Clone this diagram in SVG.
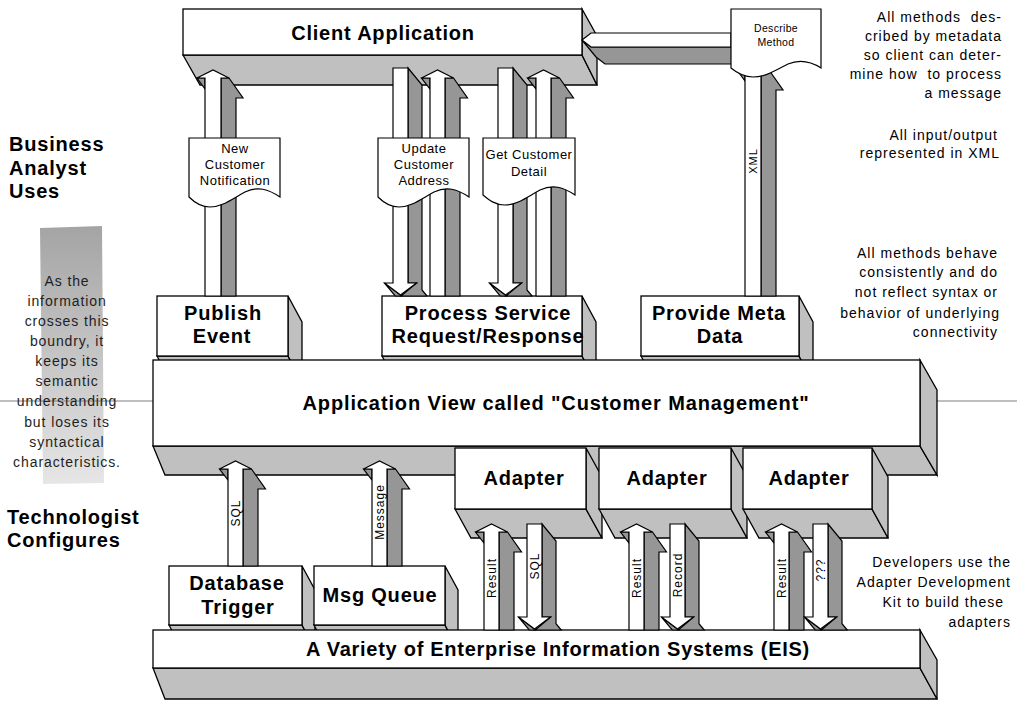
<svg xmlns="http://www.w3.org/2000/svg" width="1023" height="701" viewBox="0 0 1023 701">
<defs>
<linearGradient id="noteGrad" x1="0" y1="0" x2="0" y2="1">
<stop offset="0" stop-color="#a4a4a4"/>
<stop offset="1" stop-color="#e6e6e6"/>
</linearGradient>
</defs>
<style>
.front{fill:#ffffff;stroke:#000;stroke-width:1.3;stroke-linejoin:miter}
.face{fill:#c0c0c0;stroke:#000;stroke-width:1.3;stroke-linejoin:miter}
.aw{fill:#ffffff;stroke:#000;stroke-width:1.2;stroke-linejoin:miter}
.ag{fill:#969696;stroke:#000;stroke-width:1.2;stroke-linejoin:miter}
.doc{fill:#ffffff;stroke:#000;stroke-width:1.2}
.lbl{font-family:"Liberation Sans",Arial,sans-serif;font-weight:bold;font-size:20px;letter-spacing:0.8px;fill:#000;text-anchor:middle}
.side{font-family:"Liberation Sans",Arial,sans-serif;font-weight:bold;font-size:20px;letter-spacing:0.8px;fill:#000}
.note{font-family:"Liberation Sans",Arial,sans-serif;font-size:14px;letter-spacing:1px;fill:#000;text-anchor:end}
.gnote{font-family:"Liberation Sans",Arial,sans-serif;font-size:14px;letter-spacing:0.9px;fill:#1e1e1e;text-anchor:middle}
.dtx{font-family:"Liberation Sans",Arial,sans-serif;font-size:13px;letter-spacing:0.5px;fill:#000;text-anchor:middle}
.rot{font-family:"Liberation Sans",Arial,sans-serif;font-size:12px;letter-spacing:1px;fill:#000;text-anchor:middle}
.bline{stroke:#808080;stroke-width:1.2;fill:none}
</style>

<!-- boundary and side notes -->
<g id="boundary">
<polygon points="40,228 102,226 104,483 43,484" fill="url(#noteGrad)"/>
<line class="bline" x1="0" y1="401" x2="153" y2="401"/>
<line class="bline" x1="937" y1="401" x2="1017" y2="401"/>
<text class="gnote"><tspan x="67" y="286">As the</tspan><tspan x="67" y="306">information</tspan><tspan x="67" y="326">crosses this</tspan><tspan x="67" y="346">boundry, it</tspan><tspan x="67" y="366">keeps its</tspan><tspan x="67" y="386">semantic</tspan><tspan x="67" y="406">understanding</tspan><tspan x="67" y="427">but loses its</tspan><tspan x="67" y="447">syntactical</tspan><tspan x="67" y="467">characteristics.</tspan></text>
</g>
<g id="role-labels">
<text class="side"><tspan x="9" y="151">Business</tspan><tspan x="9" y="175">Analyst</tspan><tspan x="9" y="198">Uses</tspan></text>
<text class="side"><tspan x="7" y="524">Technologist</tspan><tspan x="7" y="547">Configures</tspan></text>
</g>
<g id="notes">
<text class="note"><tspan x="1002" y="22" xml:space="preserve">All methods  des-</tspan><tspan x="1002" y="41">cribed by metadata</tspan><tspan x="1002" y="60">so client can deter-</tspan><tspan x="1002" y="79" xml:space="preserve">mine how  to process</tspan><tspan x="1002" y="98">a message</tspan></text>
<text class="note"><tspan x="998" y="140">All input/output</tspan><tspan x="1000" y="158">represented in XML</tspan></text>
<text class="note"><tspan x="998" y="258">All methods behave</tspan><tspan x="998" y="277">consistently and do</tspan><tspan x="998" y="297">not reflect syntax or</tspan><tspan x="1000" y="318">behavior of underlying</tspan><tspan x="998" y="337">connectivity</tspan></text>
<text class="note"><tspan x="1011" y="567">Developers use the</tspan><tspan x="1011" y="587">Adapter Development</tspan><tspan x="1004" y="607">Kit to build these</tspan><tspan x="1011" y="627">adapters</tspan></text>
</g>

<!-- nodes -->
<g id="client-application">
<polygon class="face" points="183,55 582,55 597,85 200,85"/>
<polygon class="face" points="582,9 597,36 597,85 582,55"/>
<rect class="front" x="183" y="9" width="399" height="46"/>
<text class="lbl" x="383" y="40">Client Application</text>
</g>
<g id="publish-event">
<polygon class="face" points="157,356 288,356 302,382 171,382"/>
<polygon class="face" points="288,296 302,322 302,382 288,356"/>
<rect class="front" x="157" y="296" width="131" height="60"/>
<text class="lbl"><tspan x="223" y="320">Publish</tspan><tspan x="222" y="343">Event</tspan></text>
</g>
<g id="process-service">
<polygon class="face" points="382,356 582,356 596,382 396,382"/>
<polygon class="face" points="582,296 596,322 596,382 582,356"/>
<rect class="front" x="382" y="296" width="200" height="60"/>
<text class="lbl"><tspan x="488" y="320">Process Service</tspan><tspan x="488" y="343">Request/Response</tspan></text>
</g>
<g id="provide-meta-data">
<polygon class="face" points="641,356 799,356 813,382 655,382"/>
<polygon class="face" points="799,296 813,322 813,382 799,356"/>
<rect class="front" x="641" y="296" width="158" height="60"/>
<text class="lbl"><tspan x="719" y="320">Provide Meta</tspan><tspan x="720" y="343">Data</tspan></text>
</g>
<g id="application-view">
<polygon class="face" points="153,446 920,446 937,475 165,475"/>
<polygon class="face" points="920,360 937,390 937,475 920,446"/>
<rect class="front" x="153" y="360" width="767" height="86"/>
<text class="lbl" x="556" y="410" textLength="507">Application View called "Customer Management"</text>
</g>
<g id="adapter-1">
<polygon class="face" points="455,509 586,509 602,538 471,538"/>
<polygon class="face" points="586,448 602,477 602,538 586,509"/>
<rect class="front" x="455" y="448" width="131" height="61"/>
<text class="lbl" x="524" y="485">Adapter</text>
</g>
<g id="adapter-2">
<polygon class="face" points="599,509 731,509 747,538 615,538"/>
<polygon class="face" points="731,448 747,477 747,538 731,509"/>
<rect class="front" x="599" y="448" width="132" height="61"/>
<text class="lbl" x="667" y="485">Adapter</text>
</g>
<g id="adapter-3">
<polygon class="face" points="743,509 872,509 888,538 759,538"/>
<polygon class="face" points="872,448 888,477 888,538 872,509"/>
<rect class="front" x="743" y="448" width="129" height="61"/>
<text class="lbl" x="809" y="485">Adapter</text>
</g>
<g id="database-trigger">
<polygon class="face" points="169,625 302,625 315,650 182,650"/>
<polygon class="face" points="302,566 315,590 315,650 302,625"/>
<rect class="front" x="169" y="566" width="133" height="59"/>
<text class="lbl"><tspan x="237" y="590">Database</tspan><tspan x="238" y="614">Trigger</tspan></text>
</g>
<g id="msg-queue">
<polygon class="face" points="314,625 445,625 458,650 327,650"/>
<polygon class="face" points="445,566 458,590 458,650 445,625"/>
<rect class="front" x="314" y="566" width="131" height="59"/>
<text class="lbl" x="380" y="602">Msg Queue</text>
</g>
<g id="eis">
<polygon class="face" points="153,668 920,668 937,699 165,699"/>
<polygon class="face" points="920,630 937,660 937,699 920,668"/>
<rect class="front" x="153" y="630" width="767" height="38"/>
<text class="lbl" x="558" y="656" textLength="504">A Variety of Enterprise Information Systems (EIS)</text>
</g>

<!-- connectors -->
<g id="connectors">
<polygon class="ag" points="582,40 591,47 731,47 745,64 605,64 596,57"/>
<polygon class="aw" points="582,40 591,33 731,33 731,47 591,47"/>
<polygon class="ag" points="221,78 229,78 243,98 236,98 236,296 221,296"/>
<polygon class="ag" points="197,78 205,78 205,89"/>
<polygon class="aw" points="205,296 205,78 197,78 213,70 229,78 221,78 221,296"/>
<polygon class="ag" points="408,68 422,85 422,290 427,296 401,296 416.5,283 408,283"/>
<polygon class="ag" points="384.5,283 400.5,295 401.3,296 395.2,296"/>
<polygon class="aw" points="393,68 408,68 408,283 416.5,283 400.5,295 384.5,283 393,283"/>
<polygon class="ag" points="445,78 453.5,78 467.5,98 460,98 460,296 445,296"/>
<polygon class="ag" points="421.5,78 430,78 430,89"/>
<polygon class="aw" points="430,296 430,78 421.5,78 437.5,70 453.5,78 445,78 445,296"/>
<polygon class="ag" points="513,68 527,85 527,290 532,296 506,296 521.5,283 513,283"/>
<polygon class="ag" points="489.5,283 505.5,295 506.3,296 500.2,296"/>
<polygon class="aw" points="498,68 513,68 513,283 521.5,283 505.5,295 489.5,283 498,283"/>
<polygon class="ag" points="551,78 559.5,78 573.5,98 566,98 566,296 551,296"/>
<polygon class="ag" points="527.5,78 536,78 536,89"/>
<polygon class="aw" points="536,296 536,78 527.5,78 543.5,70 559.5,78 551,78 551,296"/>
<polygon class="ag" points="761,70 769,70 783,90 776,90 776,296 761,296"/>
<polygon class="ag" points="737,70 745,70 745,81"/>
<polygon class="aw" points="745,296 745,70 737,70 753,62 769,70 761,70 761,296"/>
<text class="rot" transform="translate(753,161) rotate(-90)" dy="0.35em" style="font-size:11px">XML</text>
<polygon class="ag" points="243,469 251.5,469 265.5,489 258,489 258,566 243,566"/>
<polygon class="ag" points="219.5,469 228,469 228,480"/>
<polygon class="aw" points="228,566 228,469 219.5,469 235.5,461 251.5,469 243,469 243,566"/>
<text class="rot" transform="translate(235.5,513) rotate(-90)" dy="0.35em">SQL</text>
<polygon class="ag" points="387,469 395.5,469 409.5,489 402,489 402,566 387,566"/>
<polygon class="ag" points="363.5,469 372,469 372,480"/>
<polygon class="aw" points="372,566 372,469 363.5,469 379.5,461 395.5,469 387,469 387,566"/>
<text class="rot" transform="translate(379.5,512) rotate(-90)" dy="0.35em">Message</text>
<polygon class="ag" points="499,532 507.5,532 521.5,552 514,552 514,630 499,630"/>
<polygon class="ag" points="475.5,532 484,532 484,543"/>
<polygon class="aw" points="484,630 484,532 475.5,532 491.5,524 507.5,532 499,532 499,630"/>
<text class="rot" transform="translate(491.5,578) rotate(-90)" dy="0.35em">Result</text>
<polygon class="ag" points="542,524 556,541 556,623.7 561.2,630 535.3,630 550.5,617 542,617"/>
<polygon class="ag" points="518.5,617 534.5,629 535.3,630 529.2,630"/>
<polygon class="aw" points="527,524 542,524 542,617 550.5,617 534.5,629 518.5,617 527,617"/>
<text class="rot" transform="translate(534.5,566) rotate(-90)" dy="0.35em">SQL</text>
<polygon class="ag" points="644,532 652.5,532 666.5,552 659,552 659,630 644,630"/>
<polygon class="ag" points="620.5,532 629,532 629,543"/>
<polygon class="aw" points="629,630 629,532 620.5,532 636.5,524 652.5,532 644,532 644,630"/>
<text class="rot" transform="translate(636.5,578) rotate(-90)" dy="0.35em">Result</text>
<polygon class="ag" points="685,524 699,541 699,623.7 704.2,630 678.3,630 693.5,617 685,617"/>
<polygon class="ag" points="661.5,617 677.5,629 678.3,630 672.2,630"/>
<polygon class="aw" points="670,524 685,524 685,617 693.5,617 677.5,629 661.5,617 670,617"/>
<text class="rot" transform="translate(677.5,575) rotate(-90)" dy="0.35em">Record</text>
<polygon class="ag" points="789,532 797.5,532 811.5,552 804,552 804,630 789,630"/>
<polygon class="ag" points="765.5,532 774,532 774,543"/>
<polygon class="aw" points="774,630 774,532 765.5,532 781.5,524 797.5,532 789,532 789,630"/>
<text class="rot" transform="translate(781.5,578) rotate(-90)" dy="0.35em">Result</text>
<polygon class="ag" points="828,524 842,541 842,623.7 847.2,630 821.3,630 836.5,617 828,617"/>
<polygon class="ag" points="804.5,617 820.5,629 821.3,630 815.2,630"/>
<polygon class="aw" points="813,524 828,524 828,617 836.5,617 820.5,629 804.5,617 813,617"/>
<text class="rot" transform="translate(820.5,570) rotate(-90)" dy="0.35em">???</text>
</g>

<g id="doc-new-customer">
<path class="doc" d="M189,138 H280 V197 C268,189 258,186 245,192 C232,199 222,207 210,207 C200,207 194,202 189,197 Z"/>
<text class="dtx"><tspan x="235" y="153">New</tspan><tspan x="235" y="169">Customer</tspan><tspan x="235" y="185">Notification</tspan></text>
</g>
<g id="doc-update-address">
<path class="doc" d="M378,138 H469 V197 C457,189 447,186 434,192 C421,199 411,207 399,207 C389,207 383,202 378,197 Z"/>
<text class="dtx"><tspan x="424" y="153">Update</tspan><tspan x="424" y="169">Customer</tspan><tspan x="424" y="185">Address</tspan></text>
</g>
<g id="doc-get-detail">
<path class="doc" d="M483,138 H575 V195 C563,187 553,184 540,190 C527,197 517,205 505,205 C495,205 489,200 483,195 Z"/>
<text class="dtx"><tspan x="529" y="159">Get Customer</tspan><tspan x="529" y="176">Detail</tspan></text>
</g>
<g id="doc-describe-method">
<path class="doc" d="M731,9 H821 V68 C810,61 800,59 788,64 C776,70 766,77 753,77 C743,77 737,73 731,68 Z"/>
<text class="dtx" style="font-size:10.5px;letter-spacing:0.3px"><tspan x="776" y="32">Describe</tspan><tspan x="776" y="46">Method</tspan></text>
</g>
</svg>
